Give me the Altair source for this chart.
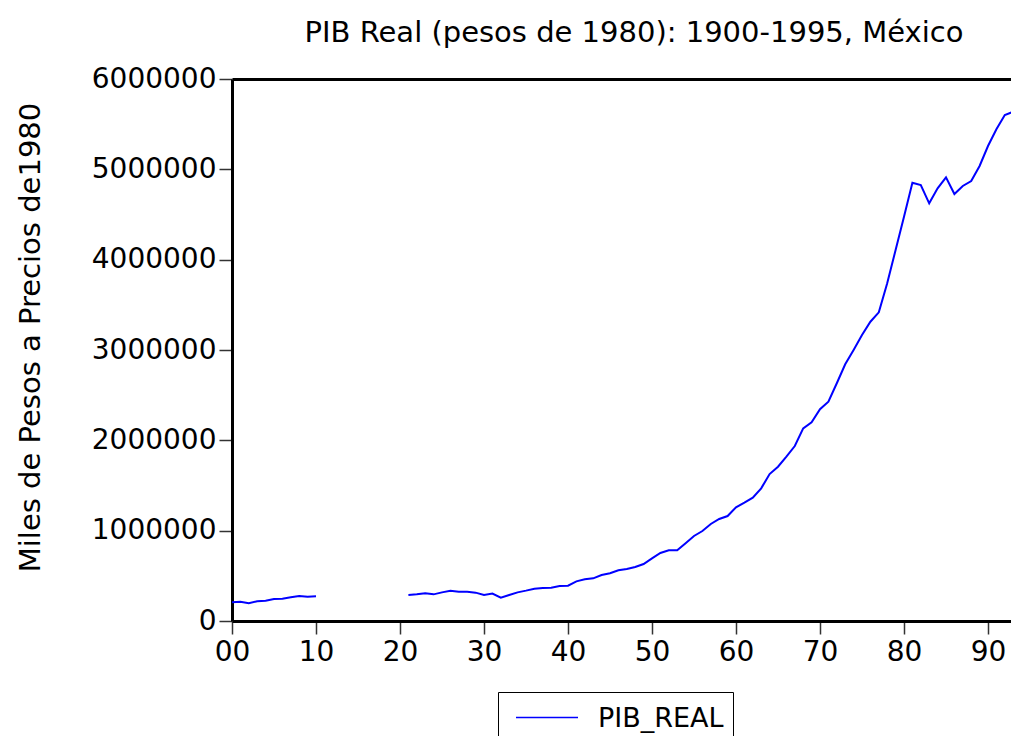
import altair as alt
import pandas as pd

# ---- data (miles de pesos de 1980) ----
years_a = list(range(1900, 1911))
pib_a = [207000, 214000, 196000, 218000, 225000, 244000, 247000, 262000, 277000, 269000, 273000]

years_b = list(range(1921, 1996))
pib_b = [288000, 295000, 306000, 295000, 317000, 336000, 325000, 325000, 314000, 288000,
         303000, 258000, 288000, 317000, 336000, 358000, 365000, 369000, 387000, 391000,
         439000, 461000, 472000, 509000, 528000, 561000, 576000, 598000, 631000, 694000,
         753000, 782000, 782000, 860000, 941000, 996000, 1074000, 1129000, 1162000, 1259000,
         1310000, 1365000, 1469000, 1627000, 1708000, 1819000, 1937000, 2133000, 2200000, 2344000,
         2428000, 2632000, 2842000, 3000000, 3166000, 3313000, 3417000, 3738000, 4107000, 4476000,
         4852000, 4825000, 4624000, 4790000, 4912000, 4727000, 4816000, 4871000, 5037000, 5258000,
         5443000, 5602000, 5638000, 5879000, 5520000]

x_ticks = list(range(1900, 2000, 10))
y_ticks = [0, 1000000, 2000000, 3000000, 4000000, 5000000, 6000000]

series_name = "PIB_REAL"
title_text = "PIB Real (pesos de 1980): 1900-1995, México"
y_title = "Miles de Pesos a Precios de1980"

df = pd.DataFrame({
    "year": years_a + years_b,
    "pib": pib_a + pib_b,
    "segment": ["a"] * len(years_a) + ["b"] * len(years_b),
    "series": [series_name] * (len(years_a) + len(years_b)),
})

FONT = "DejaVu Sans"
PX_PER_YEAR = 8.4
PLOT_W = 779
x_max = 1900 + PLOT_W / PX_PER_YEAR

xscale = alt.Scale(domain=[1900, x_max], nice=False, zero=False)
yscale = alt.Scale(domain=[0, 6000000], nice=False)

y_enc = alt.Y(
    "pib:Q", scale=yscale,
    axis=alt.Axis(
        values=y_ticks, format="d", grid=False,
        labelFont=FONT, labelFontSize=28, labelColor="black", labelPadding=3,
        tickSize=13, tickWidth=1.5, tickColor="#333333",
        domainColor="black", domainWidth=3,
        title=y_title, titleFont=FONT, titleFontSize=29, titleFontWeight="normal",
        titleColor="black", titleX=-202, titleY=258, titleAngle=270,
        titleAlign="center", titleBaseline="middle",
    ),
)

line = alt.Chart(df).mark_line(strokeWidth=2, clip=True).encode(
    x=alt.X(
        "year:Q", scale=xscale,
        axis=alt.Axis(
            values=x_ticks, format="d", labelExpr="slice(datum.label, 2)", grid=False,
            labelFont=FONT, labelFontSize=28, labelColor="black", labelPadding=4,
            labelFlush=False,
            tickSize=13, tickWidth=1.5, tickColor="#333333",
            domainColor="black", domainWidth=3, title=None,
        ),
    ),
    y=y_enc,
    detail="segment:N",
    color=alt.Color(
        "series:N",
        scale=alt.Scale(domain=[series_name], range=["#0000ff"]),
        legend=alt.Legend(
            orient="none", legendX=266, legendY=613, title=None,
            strokeColor="black", padding=9,
            symbolType="M-1,-0.5H1", symbolSize=3844, symbolStrokeWidth=1.5,
            symbolOffset=8,
            labelFont=FONT, labelFontSize=27, labelColor="black",
            labelOffset=19, labelBaseline="bottom",
        ),
    ),
)

top_border = alt.Chart(df).mark_line(opacity=0).encode(
    x=alt.X(
        "year:Q", scale=xscale,
        axis=alt.Axis(orient="top", labels=False, ticks=False, grid=False,
                      domainColor="black", domainWidth=3, title=None),
    ),
    y=y_enc,
    detail="segment:N",
)

chart = alt.layer(line, top_border).resolve_axis(x="independent").properties(
    width=PLOT_W,
    height=542,
    autosize=alt.AutoSizeParams(type="none"),
    padding={"left": 224, "top": 71, "right": 0, "bottom": 115},
    title=alt.Title(title_text, font=FONT, fontSize=29, fontWeight="normal",
                    color="black", anchor="middle", dx=12.5, offset=17),
    background="white",
).configure_view(stroke=None)

chart.save("out.html", embed_options={"renderer": "svg", "actions": False})
